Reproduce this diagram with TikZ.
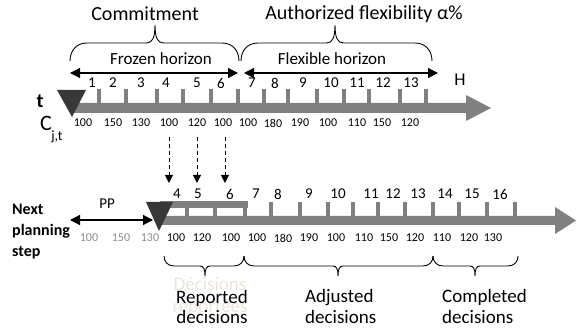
\documentclass[tikz,border=0pt]{standalone}
\usepackage{fontspec}
\setmainfont{Carlito}
\usetikzlibrary{arrows.meta}
\definecolor{bargray}{HTML}{808080}
\definecolor{tri}{HTML}{383838}
\definecolor{valgray}{HTML}{8C8C8C}
\definecolor{ghost}{HTML}{EAE6DA}
\newcommand\fsz[1]{\fontsize{#1}{#1}\selectfont}
% x1, x2, xmid, yend, curl width, signed height (positive = upward)
\newcommand\mybrace[6]{%
  \draw[brc] (#1,#4) .. controls (#1,{#4-0.55*(#6)}) and ({#1+0.35*(#5)},{#4-(#6)}) .. ({#1+(#5)},{#4-(#6)})
  -- ({#3-0.5*(#5)},{#4-(#6)}) .. controls ({#3-0.15*(#5)},{#4-(#6)}) and (#3,{#4-1.3*(#6)}) .. (#3,{#4-2*(#6)})
  .. controls (#3,{#4-1.3*(#6)}) and ({#3+0.15*(#5)},{#4-(#6)}) .. ({#3+0.5*(#5)},{#4-(#6)})
  -- ({#2-(#5)},{#4-(#6)}) .. controls ({#2-0.35*(#5)},{#4-(#6)}) and (#2,{#4-0.55*(#6)}) .. (#2,#4);}
\begin{document}
\begin{tikzpicture}[x=1pt,y=-1pt,
  lbl/.style={inner sep=0pt, font=\fsz{15}},
  val/.style={inner sep=0pt, font=\fsz{12}},
  big/.style={inner sep=0pt, font=\fsz{20}},
  mid/.style={inner sep=0pt, font=\fsz{17}},
  dbl/.style={line width=1.2pt, {Triangle[length=10pt,width=10pt]}-{Triangle[length=10pt,width=10pt]}},
  dsh/.style={line width=0.9pt, dash pattern=on 4pt off 3pt, -{Triangle[length=8pt,width=8pt]}},
  brc/.style={line width=0.9pt}]
\useasboundingbox (0,0) rectangle (577,328);

% ---------- top timeline ----------
\fill[bargray] (72,103) -- (466,103) -- (466,95) -- (491,108) -- (466,121) -- (466,113) -- (72,113) -- cycle;
\foreach \x in {99,126,157,183,211,238,264,288,317,344,369,400,426}
  \fill[bargray] (\x-2,89) rectangle (\x+2,104);
\fill[tri] (57,90) -- (86,90) -- (72,117) -- cycle;

\foreach \x/\t in {92/1,113/2,141/3,166/4,197/5,221/6,252/7,275/8,303/9,331/10,357/11,383/12,411/13}
  \node[lbl] (t\t) at (\x,83) {\t};
\foreach \x/\v [count=\i] in {83/100,113/150,141/130,169/100,197/120,223/100,248/100,273/180,300/190,328/100,357/110,382/150,410/120}
  \node[val] (c\i) at (\x,123) {\v};

\node[inner sep=0pt, font=\bfseries\fsz{20}] (tlab) at (40,101) {t};
\node[inner sep=0pt, font=\fsz{22}] (clab) at (46,123) {C};
\node[inner sep=0pt, font=\fsz{14}] (csub) at (57,137) {j,t};
\node[inner sep=0pt, font=\fsz{18}] (hlab) at (460,80) {H};

% horizons
\coordinate (fzL) at (70,73); \coordinate (fzR) at (238,73);
\coordinate (flL) at (244,73); \coordinate (flR) at (438,73);
\draw[dbl] (fzL) -- (fzR);
\draw[dbl, {Triangle[length=10pt,width=10pt]}-{Triangle[length=10pt,width=10pt]}] (flL) -- (flR);
\node[mid] (frozen) at (161,59) {Frozen horizon};
\node[mid] (flex) at (332,59) {Flexible horizon};
\mybrace{70}{239}{155}{61}{17}{18}
\mybrace{241}{432}{335}{61}{17}{18}
\node[big] (commit) at (145,14) {Commitment};
\node[big] (auth) at (364,14) {Authorized flexibility α\%};

% ---------- dashed transfer arrows ----------
\coordinate (d1a) at (169,137); \coordinate (d1b) at (169,183);
\coordinate (d2a) at (197,137); \coordinate (d2b) at (197,183);
\coordinate (d3a) at (225,137); \coordinate (d3b) at (225,183);
\draw[dsh] (d1a) -- (d1b);
\draw[dsh] (d2a) -- (d2b);
\draw[dsh] (d3a) -- (d3b);

% ---------- bottom timeline ----------
\fill[bargray] (159,216) -- (555,216) -- (555,207) -- (576,220.5) -- (555,234) -- (555,225) -- (159,225) -- cycle;
\fill[bargray] (160,201) rectangle (248,208);
\foreach \x in {187,215,245}
  \fill[bargray] (\x-2,207) rectangle (\x+2,217);
\foreach \x in {271,300,328,353,378,405,433,459,487,515}
  \fill[bargray] (\x-2,202) rectangle (\x+2,217);
\fill[tri] (146,202) -- (173,202) -- (159,231) -- cycle;

\foreach \x/\t in {177/4,198/5,230/6,256/7,278/8,309/9,338/10,371/11,393/12,418/13,445/14,472/15,500/16}
  \node[lbl] (b\t) at (\x,194) {\t};
\foreach \x/\v [count=\i] in {89/100,121/150,150/130}
  \node[val, text=valgray] (g\i) at (\x,238) {\v};
\foreach \x/\v [count=\i] in {176/100,202/120,231/100,257/100,283/180,309/190,336/100,364/110,389/150,415/120,442/110,469/120,493/130}
  \node[val] (v\i) at (\x,238) {\v};

\node[inner sep=0pt, anchor=west, align=left, font=\bfseries\fontsize{16}{21}\selectfont] (nps) at (12,232) {Next\\planning\\step};
\node[inner sep=0pt, font=\fsz{15}] (pp) at (107,204) {PP};
\coordinate (ppL) at (70,220); \coordinate (ppR) at (153,220);
\draw[dbl] (ppL) -- (ppR);

\mybrace{164}{244}{205}{256}{10}{-10}
\mybrace{244}{433}{338}{256}{10}{-10}
\mybrace{433}{518}{475}{256}{10}{-10}

\node[inner sep=0pt, align=center, text=ghost, font=\fontsize{19}{22}\selectfont] (ghost) at (210,296) {Décisions\\reportées};
\node[inner sep=0pt, align=center, font=\fontsize{19}{20}\selectfont] (rep) at (212,307) {Reported\\decisions};
\node[inner sep=0pt, anchor=west, align=left, font=\fontsize{19}{21}\selectfont] (adj) at (305,306) {Adjusted\\decisions};
\node[inner sep=0pt, anchor=west, align=left, font=\fontsize{19}{21}\selectfont] (comp) at (442,306) {Completed\\decisions};
\end{tikzpicture}
\end{document}
